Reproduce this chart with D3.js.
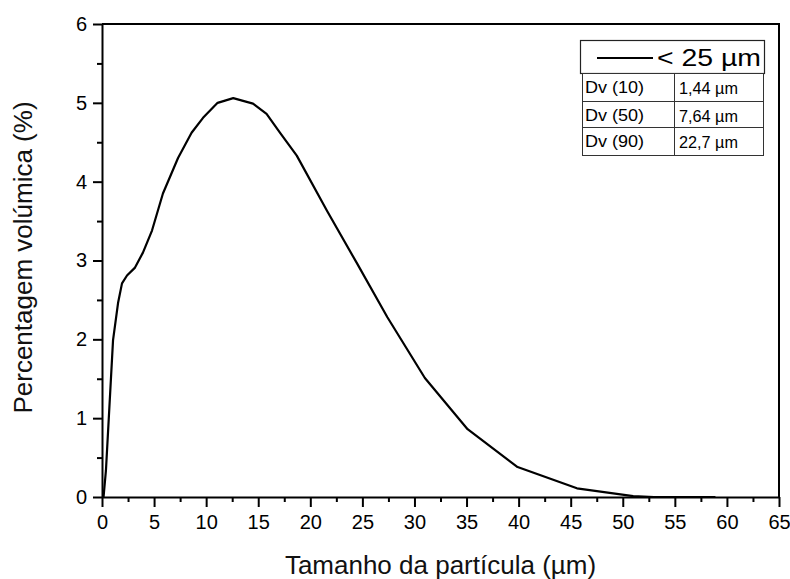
<!DOCTYPE html>
<html lang="pt">
  <head>
    <meta charset="UTF-8" />
    <title>Percentagem volúmica vs Tamanho da partícula</title>
    <script src="https://d3js.org/d3.v7.min.js"></script>
    <style>
      body { margin: 0; background: #fff; }
      svg { display: block; font-family: "Liberation Sans", Arial, sans-serif; }
    </style>
  </head>
  <body>
    <svg id="chart" width="790" height="579"></svg>

    <script>
      // particle size (um) and volume percentage
      const sizes = [0.15, 0.38, 1.06, 1.54, 1.92, 2.4, 3.17, 3.93, 4.8, 5.85, 7.3, 8.6, 9.7, 11.1, 12.6, 14.5, 15.8, 17.1, 18.7, 21.6, 24.5, 27.4, 31.0, 35.1, 39.9, 45.6, 51.0, 53.0, 58.9];
      const volumes = [0, 0.34, 1.99, 2.46, 2.71, 2.81, 2.91, 3.1, 3.38, 3.85, 4.3, 4.62, 4.81, 5.0, 5.06, 4.99, 4.86, 4.62, 4.33, 3.63, 2.96, 2.28, 1.51, 0.86, 0.38, 0.11, 0.01, 0, 0];

      const xTicks = d3.range(0, 66, 5);
      const yTicks = [0, 1, 2, 3, 4, 5, 6];

      const seriesLabel = "< 25 \u00b5m";
      const dvLabels = ["Dv (10)", "Dv (50)", "Dv (90)"];
      const dvValues = ["1,44 \u00b5m", "7,64 \u00b5m", "22,7 \u00b5m"];

      const margin = { top: 24, right: 11, bottom: 82, left: 102 },
        width = 790 - margin.left - margin.right,
        height = 579 - margin.top - margin.bottom;

      const svg = d3
        .select("#chart")
        .append("g")
        .attr("transform", `translate(${margin.left},${margin.top})`);

      const x = d3.scaleLinear().domain([0, 65]).range([0, width]);
      const y = d3.scaleLinear().domain([0, 6]).range([height, 0]);

      // minor ticks
      svg
        .append("g")
        .attr("transform", `translate(0,${height})`)
        .call(d3.axisBottom(x).tickValues(d3.range(2.5, 65, 5)).tickSize(5).tickFormat(""))
        .call((g) => g.select(".domain").remove())
        .selectAll("line").attr("stroke-width", 2);

      svg
        .append("g")
        .call(d3.axisLeft(y).tickValues(d3.range(0.5, 6, 1)).tickSize(5).tickFormat(""))
        .call((g) => g.select(".domain").remove())
        .selectAll("line").attr("stroke-width", 2);

      // major axes
      const xAxis = svg
        .append("g")
        .attr("transform", `translate(0,${height})`)
        .call(d3.axisBottom(x).tickValues(xTicks).tickSize(10).tickSizeOuter(0).tickPadding(8).tickFormat(d3.format("d")));

      const yAxis = svg
        .append("g")
        .call(d3.axisLeft(y).tickValues(yTicks).tickSize(9).tickSizeOuter(0).tickPadding(6).tickFormat(d3.format("d")));

      [xAxis, yAxis].forEach((g) => {
        g.selectAll("line").attr("stroke-width", 2);
        g.select(".domain").attr("stroke-width", 2);
        g.selectAll("text")
          .attr("font-size", 20)
          .attr("fill", "#000")
          .attr("font-family", "Liberation Sans, Arial, sans-serif");
      });

      // top and right frame
      svg
        .append("path")
        .attr("d", `M0,0H${width}V${height}`)
        .attr("fill", "none")
        .attr("stroke", "#000")
        .attr("stroke-width", 2);

      // curve
      const points = sizes.map((s, i) => [s, volumes[i]]);
      svg
        .append("path")
        .datum(points)
        .attr("fill", "none")
        .attr("stroke", "#000")
        .attr("stroke-width", 2.2)
        .attr("stroke-linejoin", "round")
        .attr("d", d3.line().x((d) => x(d[0])).y((d) => y(d[1])));

      // axis titles
      svg
        .append("text")
        .attr("x", width / 2)
        .attr("y", height + 77)
        .attr("text-anchor", "middle")
        .attr("font-size", 26)
        .attr("fill", "#111")
        .text("Tamanho da partícula (\u00b5m)");

      svg
        .append("text")
        .attr("transform", `translate(${-70},${height / 2 - 3}) rotate(-90)`)
        .attr("text-anchor", "middle")
        .attr("font-size", 26)
        .attr("fill", "#111")
        .text("Percentagem volúmica (%)");

      // legend box with the Dv table
      const legend = d3.select("#chart").append("g");

      legend
        .append("rect")
        .attr("x", 580.5)
        .attr("y", 40.5)
        .attr("width", 184)
        .attr("height", 33)
        .attr("fill", "#fff")
        .attr("stroke", "#222")
        .attr("stroke-width", 1.2);

      legend
        .append("line")
        .attr("x1", 597)
        .attr("x2", 653)
        .attr("y1", 58)
        .attr("y2", 58)
        .attr("stroke", "#000")
        .attr("stroke-width", 2.2);

      legend
        .append("text")
        .attr("x", 657)
        .attr("y", 66)
        .attr("font-size", 23)
        .attr("textLength", 104)
        .attr("lengthAdjust", "spacingAndGlyphs")
        .text(seriesLabel);

      const rowY = [73, 101, 127, 155];
      dvLabels.forEach((lab, i) => {
        const row = legend.append("g");
        row
          .append("rect")
          .attr("x", 582.5)
          .attr("y", rowY[i] + 0.5)
          .attr("width", 92)
          .attr("height", rowY[i + 1] - rowY[i])
          .attr("fill", "#fff")
          .attr("stroke", "#333");
        row
          .append("rect")
          .attr("x", 674.5)
          .attr("y", rowY[i] + 0.5)
          .attr("width", 89)
          .attr("height", rowY[i + 1] - rowY[i])
          .attr("fill", "#fff")
          .attr("stroke", "#333");
        row
          .append("text")
          .attr("x", 585)
          .attr("y", rowY[i] + 20)
          .attr("font-size", 16)
          .attr("textLength", 59)
          .attr("lengthAdjust", "spacingAndGlyphs")
          .text(lab);
        row
          .append("text")
          .attr("x", 679)
          .attr("y", rowY[i] + 21)
          .attr("font-size", 16)
          .attr("textLength", 59)
          .attr("lengthAdjust", "spacingAndGlyphs")
          .text(dvValues[i]);
      });
    </script>
  </body>
</html>
